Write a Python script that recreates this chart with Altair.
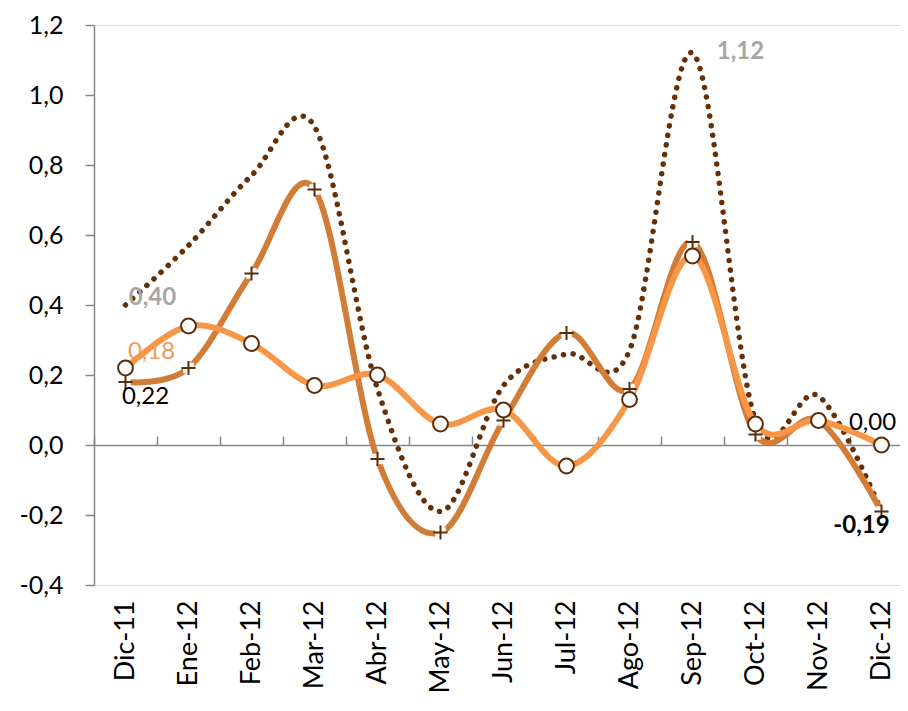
import altair as alt
import pandas as pd

# ---- data ----
categories = ["Dic-11", "Ene-12", "Feb-12", "Mar-12", "Abr-12", "May-12", "Jun-12",
              "Jul-12", "Ago-12", "Sep-12", "Oct-12", "Nov-12", "Dic-12"]
dotted_vals = [0.40, 0.57, 0.77, 0.91, 0.16, -0.19, 0.17, 0.26, 0.27, 1.12, 0.07, 0.14, -0.19]
brown_vals = [0.18, 0.22, 0.49, 0.73, -0.04, -0.25, 0.07, 0.32, 0.16, 0.58, 0.03, 0.07, -0.19]
orange_vals = [0.22, 0.34, 0.29, 0.17, 0.20, 0.06, 0.10, -0.06, 0.13, 0.54, 0.06, 0.07, 0.00]
y_ticks = [-0.4, -0.2, 0.0, 0.2, 0.4, 0.6, 0.8, 1.0, 1.2]

# data labels as printed in the picture: (series, category, text)
labels = [
    ("dotted", "Dic-11", "0,40"),
    ("orange", "Dic-11", "0,18"),
    ("brown", "Dic-11", "0,22"),
    ("dotted", "Sep-12", "1,12"),
    ("orange", "Dic-12", "0,00"),
    ("brown", "Dic-12", "-0,19"),
]

series = {"dotted": dotted_vals, "brown": brown_vals, "orange": orange_vals}

FONT = "Lato"
AXIS_GRAY = "#868686"
C_DOT = "#653007"
C_BROWN = "#D27D37"
C_ORANGE = "#F79646"
C_MARK = "#5A2D0A"

def frame(vals):
    return pd.DataFrame({"cat": categories, "value": vals})

xscale = alt.Scale(domain=categories, range=[0, 819], paddingInner=0, paddingOuter=0)
yscale = alt.Scale(domain=[-0.4, 1.2], nice=False, zero=False)

yaxis = alt.Axis(values=y_ticks, format=".1f", grid=False, domainColor=AXIS_GRAY,
                 domainWidth=1.5, tickColor=AXIS_GRAY, tickWidth=1.5, tickSize=9,
                 labelFont=FONT, labelFontSize=25, labelColor="#000000",
                 labelPadding=22, title=None)

def yenc():
    return alt.Y("value:Q", scale=yscale, axis=yaxis)

def xenc(axis=None):
    if axis is None:
        return alt.X("cat:N", sort=categories, scale=xscale, axis=None)
    return alt.X("cat:N", sort=categories, scale=xscale, axis=axis)

bottom_axis = alt.Axis(domain=False, ticks=False, labelAngle=270, labelAlign="right",
                       labelBaseline="middle", labelPadding=15, labelFont=FONT,
                       labelFontSize=27, labelColor="#000000", title=None,
                       orient="bottom")
top_axis = alt.Axis(orient="top", offset=-420, labels=False, domainColor=AXIS_GRAY,
                    domainWidth=1.5, tickColor=AXIS_GRAY, tickWidth=1.5, tickSize=9,
                    tickBand="extent", title=None)

dotted = alt.Chart(frame(dotted_vals)).mark_line(
    interpolate="cardinal", color=C_DOT, strokeWidth=5.5, strokeDash=[0.1, 9.6],
    strokeCap="round").encode(x=xenc(top_axis), y=yenc())

brown = alt.Chart(frame(brown_vals)).mark_line(
    interpolate="cardinal", color=C_BROWN, strokeWidth=6).encode(x=xenc(bottom_axis), y=yenc())

orange = alt.Chart(frame(orange_vals)).mark_line(
    interpolate="cardinal", color=C_ORANGE, strokeWidth=6).encode(x=xenc(), y=yenc())

plus_bg = alt.Chart(frame(brown_vals)).mark_point(
    shape="square", filled=True, color="white", size=110, opacity=1).encode(x=xenc(), y=yenc())

plus = alt.Chart(frame(brown_vals)).mark_point(
    shape="M-1,0H1M0,-1V1", filled=False, stroke=C_MARK, strokeWidth=2, size=200,
    opacity=1).encode(x=xenc(), y=yenc())

circles = alt.Chart(frame(orange_vals)).mark_point(
    shape="circle", filled=True, fill="white", stroke=C_MARK, strokeWidth=2,
    size=220, opacity=1).encode(x=xenc(), y=yenc())

label_style = {
    0: dict(dx=27, dy=-7, color="#A6A6A6", fontWeight="bold"),
    1: dict(dx=26, dy=-16, color="#EC9A60", fontWeight="normal"),
    2: dict(dx=20, dy=15, color="#000000", fontWeight="normal"),
    3: dict(dx=48, dy=-1, color="#A6A6A6", fontWeight="bold"),
    4: dict(dx=-9, dy=-22, color="#000000", fontWeight="normal"),
    5: dict(dx=-20, dy=14, color="#000000", fontWeight="bold"),
}

text_layers = []
for i, (s, cat, txt) in enumerate(labels):
    v = series[s][categories.index(cat)]
    df = pd.DataFrame({"cat": [cat], "value": [v], "label": [txt]})
    st = label_style[i]
    text_layers.append(
        alt.Chart(df).mark_text(font=FONT, fontSize=24, align="center", baseline="middle",
                                **st).encode(x=xenc(), y=yenc(), text="label:N"))

chart = alt.layer(dotted, brown, orange, plus_bg, plus, circles, *text_layers).resolve_axis(
    x="independent"
).properties(
    width=806, height=560,
    autosize=alt.AutoSizeParams(type="none"),
    padding={"left": 86, "top": 17, "right": 0, "bottom": 110},
    background="white",
).configure_view(stroke=None).configure(
    locale={"number": {"decimal": ",", "thousands": ".", "grouping": [3],
                       "currency": ["", " €"], "minus": "-"}}
)

chart.save("out.html", embed_options={"renderer": "svg", "actions": False})
